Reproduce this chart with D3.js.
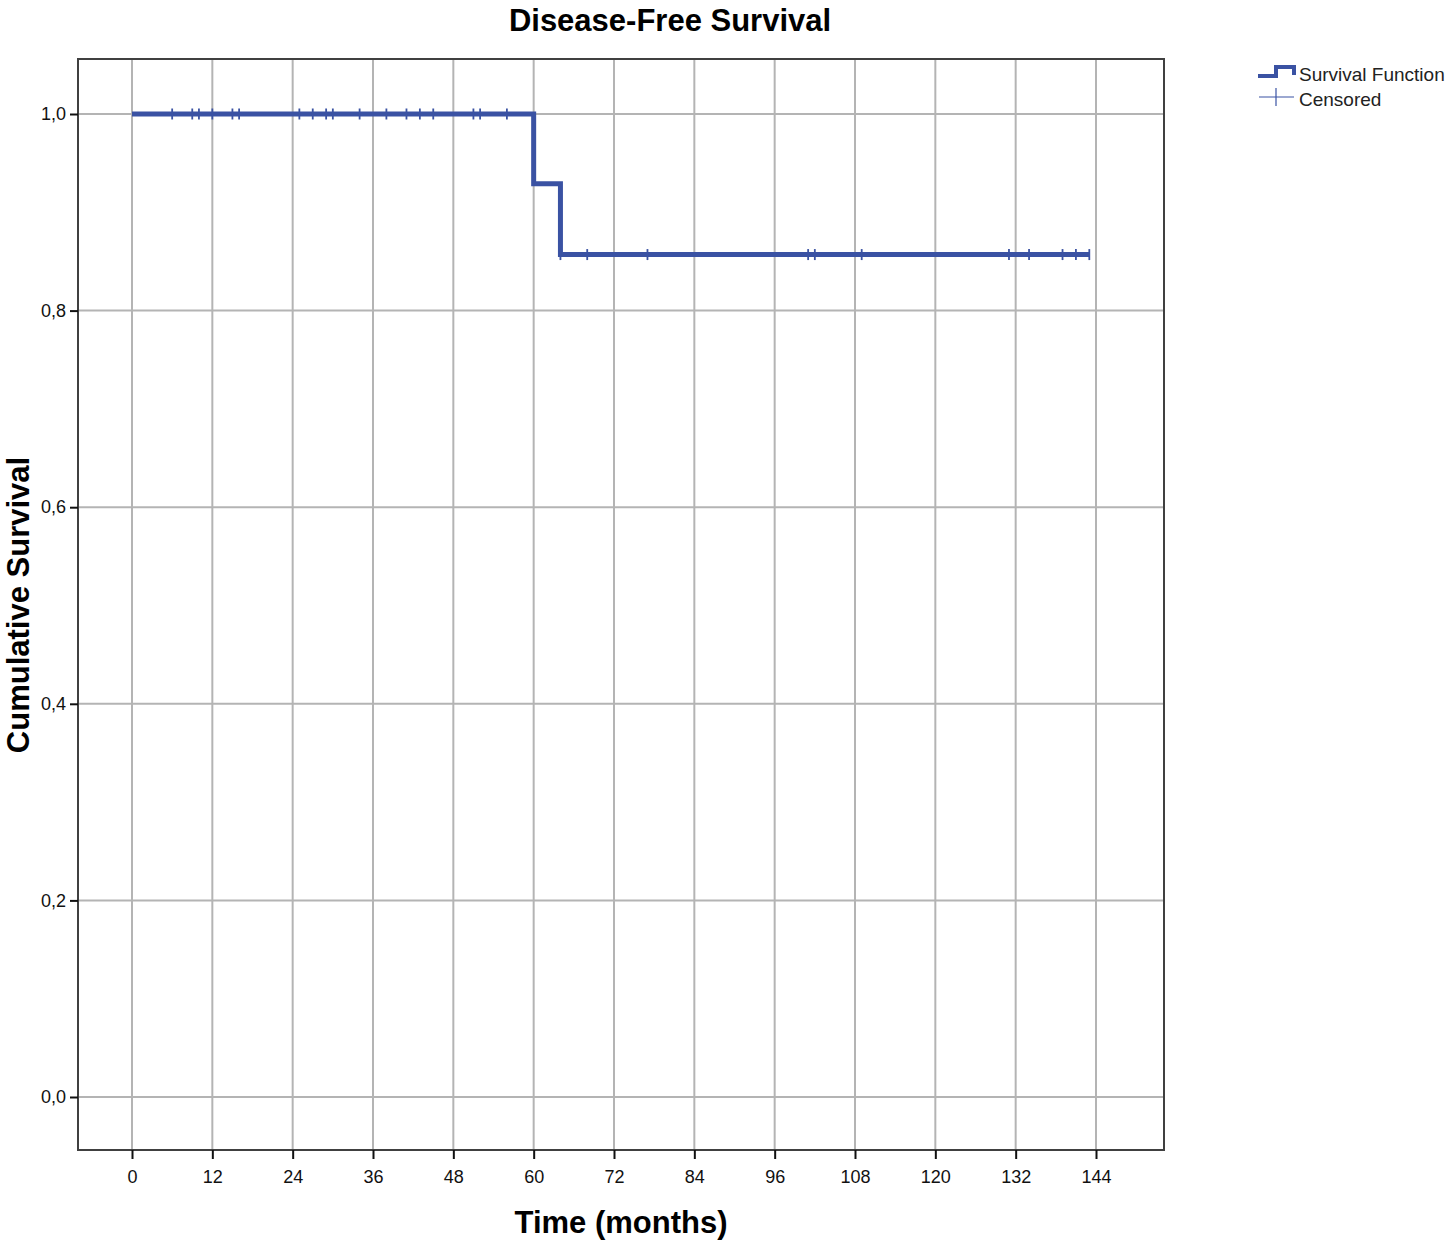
<!DOCTYPE html>
<html>
<head>
<meta charset="utf-8">
<script src="https://cdn.jsdelivr.net/npm/d3@7"></script>
<style>
  body { margin: 0; background: #fff; }
  svg { font-family: "Liberation Sans", Arial, sans-serif; }
</style>
</head>
<body>
<svg id="chart"></svg>
<script>
// Kaplan-Meier steps: survival value from each time onward
const stepTimes = [0, 60, 64];
const stepSurvival = [1.0, 0.929, 0.857];
const lastFollowUp = 143;

// censored observations (months)
const censoredTimes = [6, 9, 10, 12, 15, 16, 25, 27, 29, 30, 34, 38, 41, 43, 45, 51, 52, 56,
    64, 68, 77, 101, 102, 109, 131, 134, 139, 141, 143];

const xTicks = [0, 12, 24, 36, 48, 60, 72, 84, 96, 108, 120, 132, 144];
const yTicks = [0, 0.2, 0.4, 0.6, 0.8, 1.0];

const dimensions = {
    width: 1450,
    height: 1244,
    frame: { left: 78, right: 1164, top: 59, bottom: 1150 }
};

const blue = "#3a52a3";

const svg = d3.select("#chart")
    .attr("width", dimensions.width)
    .attr("height", dimensions.height);

const xScale = d3.scaleLinear().domain([0, 144]).range([132, 1096]);
const yScale = d3.scaleLinear().domain([0, 1]).range([1097, 114]);

const f = dimensions.frame;

// gridlines
svg.append("g")
    .selectAll("line")
    .data(xTicks)
    .enter()
    .append("line")
    .attr("x1", d => xScale(d)).attr("x2", d => xScale(d))
    .attr("y1", f.top).attr("y2", f.bottom)
    .attr("stroke", "#b4b4b4").attr("stroke-width", 2);

svg.append("g")
    .selectAll("line")
    .data(yTicks)
    .enter()
    .append("line")
    .attr("x1", f.left).attr("x2", f.right)
    .attr("y1", d => yScale(d)).attr("y2", d => yScale(d))
    .attr("stroke", "#b4b4b4").attr("stroke-width", 2);

// frame
svg.append("rect")
    .attr("x", f.left).attr("y", f.top)
    .attr("width", f.right - f.left).attr("height", f.bottom - f.top)
    .attr("fill", "none").attr("stroke", "#404040").attr("stroke-width", 2);

// axes
const xAxis = svg.append("g")
    .attr("transform", `translate(0, ${f.bottom})`)
    .call(d3.axisBottom(xScale).tickValues(xTicks).tickSize(9).tickPadding(11));
xAxis.select(".domain").remove();

const yAxis = svg.append("g")
    .attr("transform", `translate(${f.left}, 0)`)
    .call(d3.axisLeft(yScale).tickValues(yTicks).tickSize(8).tickPadding(4)
        .tickFormat(d => d3.format(".1f")(d).replace(".", ",")));
yAxis.select(".domain").remove();

svg.selectAll(".tick line").attr("stroke", "#111").attr("stroke-width", 2);
svg.selectAll(".tick text")
    .attr("fill", "#111")
    .style("font-size", "18px")
    .style("font-family", "Liberation Sans, Arial, sans-serif");

// survival curve
const survivalPoints = stepTimes.map((t, i) => ({ t: t, s: stepSurvival[i] }));
survivalPoints.push({ t: lastFollowUp, s: stepSurvival[stepSurvival.length - 1] });

const line = d3.line()
    .x(d => xScale(d.t))
    .y(d => yScale(d.s))
    .curve(d3.curveStepAfter);

svg.append("path")
    .datum(survivalPoints)
    .attr("d", line)
    .attr("fill", "none")
    .attr("stroke", blue)
    .attr("stroke-width", 5);

function survivalAt(t) {
    let s = stepSurvival[0];
    stepTimes.forEach((st, i) => { if (t >= st) s = stepSurvival[i]; });
    return s;
}

// censored marks
svg.append("g")
    .selectAll("line")
    .data(censoredTimes)
    .enter()
    .append("line")
    .attr("x1", d => xScale(d)).attr("x2", d => xScale(d))
    .attr("y1", d => yScale(survivalAt(d)) - 5.5)
    .attr("y2", d => yScale(survivalAt(d)) + 5.5)
    .attr("stroke", blue)
    .attr("stroke-width", 1.8);

// titles
svg.append("text")
    .attr("x", 670).attr("y", 31)
    .attr("text-anchor", "middle")
    .style("font-size", "31px").style("font-weight", "bold")
    .text("Disease-Free Survival");

svg.append("text")
    .attr("x", 621).attr("y", 1233)
    .attr("text-anchor", "middle")
    .style("font-size", "31px").style("font-weight", "bold")
    .text("Time (months)");

svg.append("text")
    .attr("transform", "translate(29, 605) rotate(-90)")
    .attr("text-anchor", "middle")
    .style("font-size", "31px").style("font-weight", "bold")
    .text("Cumulative Survival");

// legend
const legend = svg.append("g").attr("transform", "translate(1258, 0)");

legend.append("path")
    .attr("d", "M0,76 H18 V67 H36 V75")
    .attr("fill", "none")
    .attr("stroke", blue)
    .attr("stroke-width", 4);

legend.append("text")
    .attr("x", 41).attr("y", 81)
    .style("font-size", "19px")
    .attr("fill", "#222")
    .text("Survival Function");

legend.append("line")
    .attr("x1", 1).attr("x2", 36).attr("y1", 97).attr("y2", 97)
    .attr("stroke", blue).attr("stroke-width", 1.2);
legend.append("line")
    .attr("x1", 18).attr("x2", 18).attr("y1", 88).attr("y2", 106)
    .attr("stroke", blue).attr("stroke-width", 1.2);

legend.append("text")
    .attr("x", 41).attr("y", 106)
    .style("font-size", "19px")
    .attr("fill", "#222")
    .text("Censored");
</script>
</body>
</html>
